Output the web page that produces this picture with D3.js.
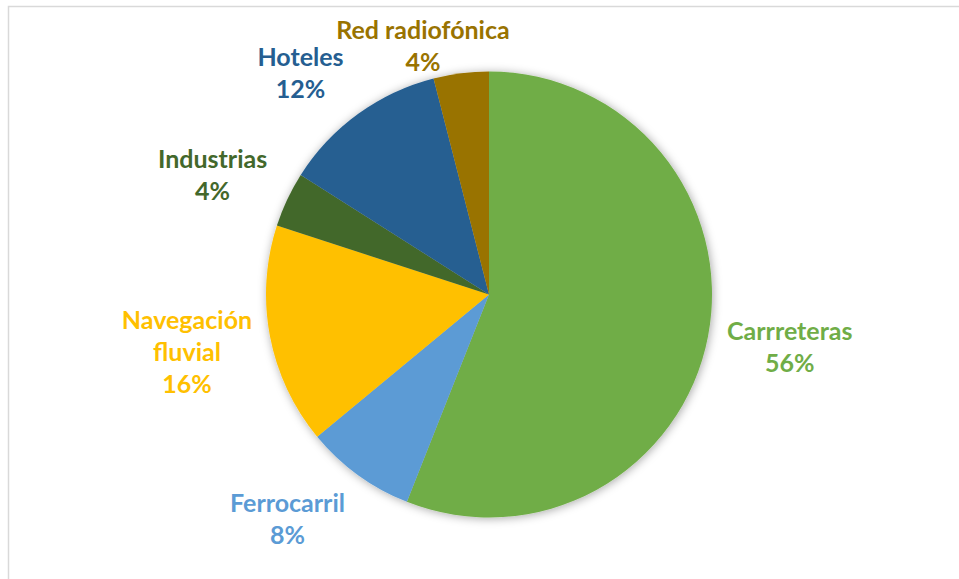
<!DOCTYPE html>
<html>
<head>
<meta charset="utf-8">
<script src="https://cdn.jsdelivr.net/npm/d3@7"></script>
<style>
  html, body { margin: 0; padding: 0; background: #fff; }
  svg { display: block; }
</style>
</head>
<body>
<svg id="chart" width="959" height="579"></svg>
<script>
// Distribución por sector
const categories = ["Carrreteras", "Ferrocarril", "Navegación fluvial", "Industrias", "Hoteles", "Red radiofónica"];
const values = [56, 8, 16, 4, 12, 4];
const colors = ["#70AD47", "#5B9BD5", "#FFC000", "#43682B", "#255E91", "#997300"];
// label text is split into lines as in the chart
const labelLines = [["Carrreteras"], ["Ferrocarril"], ["Navegación", "fluvial"], ["Industrias"], ["Hoteles"], ["Red radiofónica"]];

const W = 959, H = 579;
const cx = 489, cy = 294.5, R = 223;
const fontSize = 25, lineGap = 32, labelGap = 16;
// small per-label adjustments of the outside-end placement
const nudge = {
  "Carrreteras": [0, -5],
  "Navegación fluvial": [4, -1],
  "Ferrocarril": [-27, -15],
  "Hoteles": [-19, 12],
  "Industrias": [-4, 9],
  "Red radiofónica": [-31, 0]
};

const svg = d3.select("#chart");

// chart area frame
svg.append("rect")
  .attr("x", 8.5).attr("y", 6.5)
  .attr("width", W + 20).attr("height", H + 20)
  .attr("fill", "#fff")
  .attr("stroke", "#d9d9d9").attr("stroke-width", 1.5);

const defs = svg.append("defs");
const f = defs.append("filter").attr("id", "pieShadow")
  .attr("x", "-20%").attr("y", "-20%").attr("width", "140%").attr("height", "140%");
f.append("feDropShadow")
  .attr("dx", 1).attr("dy", 1).attr("stdDeviation", 5)
  .attr("flood-color", "#000").attr("flood-opacity", 0.35);

const data = categories.map((c, i) => ({ name: c, value: values[i], color: colors[i], lines: labelLines[i] }));

const pie = d3.pie().value(d => d.value).sort(null);
const arcs = pie(data);
const arc = d3.arc().innerRadius(0).outerRadius(R);

const g = svg.append("g").attr("transform", `translate(${cx},${cy})`);
g.append("g").attr("filter", "url(#pieShadow)")
  .selectAll("path")
  .data(arcs)
  .join("path")
  .attr("d", arc)
  .attr("fill", d => d.data.color);

// outside-end labels: category name lines followed by the percentage
const labels = g.append("g")
  .attr("font-family", "Lato, 'Open Sans', sans-serif")
  .attr("font-weight", "bold")
  .attr("font-size", fontSize)
  .attr("text-anchor", "middle");

arcs.forEach(a => {
  const lines = a.data.lines.concat([d3.format(".0%")(a.data.value / d3.sum(values))]);
  const t = labels.append("text").attr("fill", a.data.color);
  lines.forEach((ln, i) => {
    t.append("tspan").attr("x", 0).attr("y", i * lineGap).attr("dy", "0.35em").text(ln);
  });
  const bb = t.node().getBBox();
  const hw = bb.width / 2;
  const hh = (lines.length - 1) * lineGap / 2 + fontSize * 0.55;
  const mid = (a.startAngle + a.endAngle) / 2;
  const ux = Math.sin(mid), uy = -Math.cos(mid);
  const dist = R + labelGap + hw * Math.abs(ux) + hh * Math.abs(uy);
  let x = ux * dist, y = uy * dist;
  const n = nudge[a.data.name] || [0, 0];
  x += n[0]; y += n[1];
  // keep the block inside the chart area
  const top = cy + y - hh;
  if (top < 16) y += 16 - top;
  const firstY = y - (lines.length - 1) * lineGap / 2;
  t.attr("transform", `translate(${x},${firstY})`);
});
</script>
</body>
</html>
